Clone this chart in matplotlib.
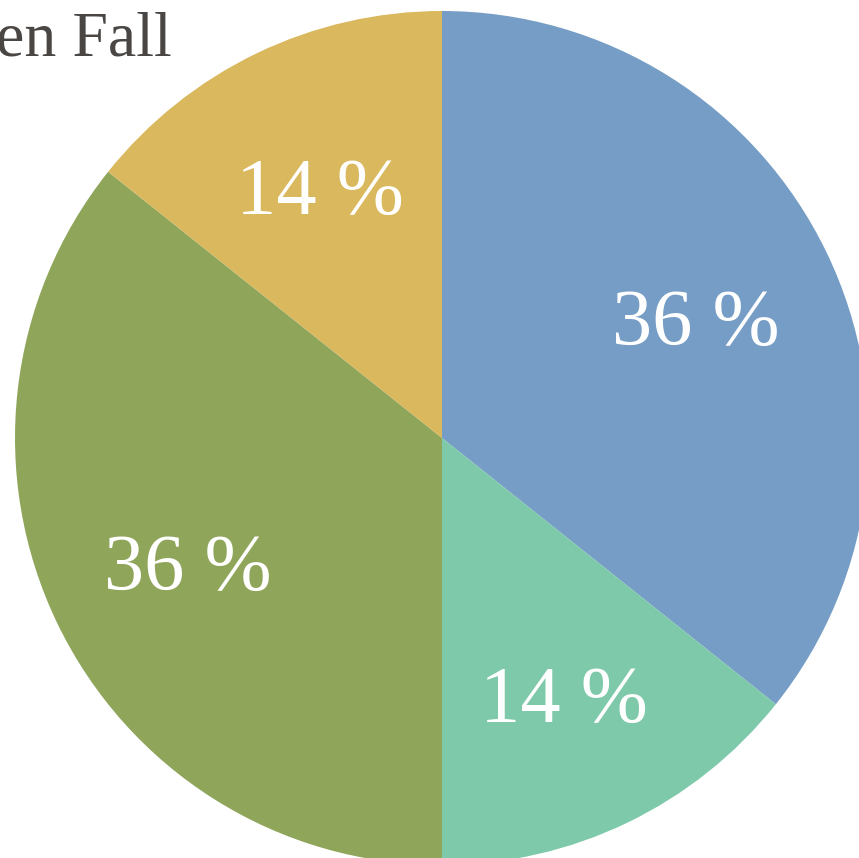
import matplotlib
matplotlib.use("Agg")
import matplotlib.pyplot as plt

# 數據 (順時針，從正上方開始)
labels = ["A", "B", "C", "D"]
values = [5, 2, 5, 2]
colors = ["#769dc5", "#7ec9aa", "#8fa55a", "#dab85e"]
title_text = "en Fall"

plt.rcParams['font.family'] = ['Liberation Serif', 'DejaVu Serif']

W, H = 859, 858
fig = plt.figure(figsize=(W / 100, H / 100), dpi=100)

# 圓心與半徑 (像素)
cx, cy, r = 442, 438, 427
ax = fig.add_axes([(cx - r) / W, (H - cy - r) / H, 2 * r / W, 2 * r / H])
ax.set_aspect("equal")
ax.axis("off")

wedges, texts, autotexts = ax.pie(
    values, colors=colors, startangle=90, counterclock=False,
    radius=1, center=(0, 0), frame=False,
    autopct=lambda p: f"{p:.0f} %", pctdistance=0.66,
    wedgeprops=dict(linewidth=0),
    textprops=dict(color="white", fontsize=58),
)
ax.set_xlim(-1, 1)
ax.set_ylim(-1, 1)

# 標籤略往下移
for t in autotexts:
    x, y = t.get_position()
    t.set_position((x, y - 10 / r))

fig.text(172 / W, 1 - 55 / H, title_text, ha="right", va="baseline",
         fontsize=46, color="#4a4643")

fig.savefig("out.png", dpi=100)
